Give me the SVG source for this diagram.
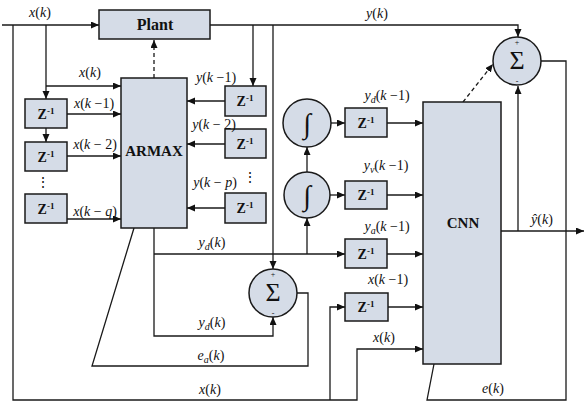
<svg xmlns="http://www.w3.org/2000/svg" width="585" height="404" viewBox="0 0 585 404" font-family="'Liberation Serif', 'DejaVu Serif', 'Noto Serif', serif">
<defs>
<marker id="ah" markerUnits="userSpaceOnUse" markerWidth="9" markerHeight="8" refX="8" refY="3.5" orient="auto">
<path d="M0,0 L8,3.5 L0,7 z" fill="#111"/>
</marker>
<style>
.blk{fill:#d5dce7;stroke:#1a1a1a;stroke-width:1.5}
.ln{fill:none;stroke:#1a1a1a;stroke-width:1.3}
.ar{fill:none;stroke:#1a1a1a;stroke-width:1.3;marker-end:url(#ah)}
.ds{stroke-dasharray:4,3}
text{font-family:'Liberation Serif','DejaVu Serif','Noto Serif',serif;fill:#111}
.lb{font-size:14px;text-anchor:middle}
.i{font-style:italic}
.sb{font-size:10px;font-style:italic}
.bd{font-weight:bold;font-size:15px;text-anchor:middle}
.z{font-weight:bold;font-size:14px;text-anchor:middle}
.sup{font-size:9px}
.sg{font-size:26px;text-anchor:middle}
.ig{font-size:28px;text-anchor:middle}
.pm{font-size:8px;text-anchor:middle}
</style>
</defs>
<rect width="585" height="404" fill="#fff"/>
<g id="connectors">
<path class="ar" d="M2,25 H99"/>
<path class="ar" d="M13,25 V400 H357 V349 H423"/>
<path class="ar" d="M330,400 V307 H345"/>
<path class="ar" d="M46,25 V99"/>
<path class="ar" d="M46,86 H121"/>
<path class="ar" d="M46,128 V142"/>
<path class="ar" d="M67,114 H121"/>
<path class="ar" d="M67,156 H121"/>
<path class="ar" d="M67,219 H121"/>
<path class="ar ds" d="M154,78 V40"/>
<path class="ar" d="M210,25 H518 V37"/>
<path class="ar" d="M253,25 V86"/>
<path class="ar" d="M273,25 V269"/>
<path class="ar" d="M225,101 H187"/>
<path class="ar" d="M225,144 H187"/>
<path class="ar" d="M225,208 H187"/>
<path class="ln" d="M541,61 H566 V400 H427 L434,364"/>
<path class="ar" d="M501,231 H584"/>
<path class="ar" d="M518,231 V86"/>
<path class="ar ds" d="M463,102 L493,64"/>
<path class="ar" d="M154,228 V336 H273 V317"/>
<path class="ar" d="M154,254 H345"/>
<path class="ar" d="M307,254 V218"/>
<path class="ar" d="M307,172 V147"/>
<path class="ar" d="M331,123 H345"/>
<path class="ar" d="M330,195 H345"/>
<path class="ar" d="M387,123 H423"/>
<path class="ar" d="M387,195 H423"/>
<path class="ar" d="M387,254 H423"/>
<path class="ar" d="M388,307 H423"/>
<path class="ln" d="M297,293 H308 V366 H92 L134,228"/>
</g>
<g id="plant"><rect class="blk" x="99" y="10" width="111" height="29"/><text class="bd" x="155" y="30" style="font-size:16px">Plant</text></g>
<g id="armax"><rect class="blk" x="121" y="78" width="66" height="150"/><text class="bd" x="154" y="156">ARMAX</text></g>
<g id="cnn"><rect class="blk" x="423" y="102" width="78" height="262"/><text class="bd" x="463" y="228">CNN</text></g>
<g id="zl1"><rect class="blk" x="25" y="99" width="42" height="29"/><text class="z" x="46" y="119">Z<tspan class="sup" dy="-5">-1</tspan></text></g>
<g id="zl2"><rect class="blk" x="25" y="142" width="42" height="29"/><text class="z" x="46" y="162">Z<tspan class="sup" dy="-5">-1</tspan></text></g>
<g id="zl3"><rect class="blk" x="25" y="194" width="42" height="29"/><text class="z" x="46" y="214">Z<tspan class="sup" dy="-5">-1</tspan></text></g>
<g id="zr1"><rect class="blk" x="225" y="86" width="41" height="30"/><text class="z" x="245" y="106">Z<tspan class="sup" dy="-5">-1</tspan></text></g>
<g id="zr2"><rect class="blk" x="225" y="129" width="41" height="29"/><text class="z" x="245" y="149">Z<tspan class="sup" dy="-5">-1</tspan></text></g>
<g id="zr3"><rect class="blk" x="225" y="193" width="41" height="30"/><text class="z" x="245" y="213">Z<tspan class="sup" dy="-5">-1</tspan></text></g>
<g id="zm1"><rect class="blk" x="345" y="108" width="42" height="29"/><text class="z" x="366" y="128">Z<tspan class="sup" dy="-5">-1</tspan></text></g>
<g id="zm2"><rect class="blk" x="345" y="181" width="42" height="28"/><text class="z" x="366" y="200">Z<tspan class="sup" dy="-5">-1</tspan></text></g>
<g id="zm3"><rect class="blk" x="345" y="239" width="42" height="29"/><text class="z" x="366" y="259">Z<tspan class="sup" dy="-5">-1</tspan></text></g>
<g id="zm4"><rect class="blk" x="345" y="293" width="43" height="28"/><text class="z" x="366" y="312">Z<tspan class="sup" dy="-5">-1</tspan></text></g>
<g id="int1"><circle class="blk" cx="307" cy="123" r="24"/><text class="ig" x="307" y="133">∫</text></g>
<g id="int2"><circle class="blk" cx="307" cy="195" r="23"/><text class="ig" x="307" y="205">∫</text></g>
<g id="sum1"><circle class="blk" cx="273" cy="293" r="24"/><text class="sg" x="273" y="301">Σ</text><text class="pm" x="273" y="277">+</text><text class="pm" x="273" y="316">-</text></g>
<g id="sum2"><circle class="blk" cx="517" cy="61" r="24"/><text class="sg" x="517" y="69">Σ</text><text class="pm" x="517" y="45">+</text><text class="pm" x="517" y="84">-</text></g>
<g id="labels">
<text class="lb" x="40" y="17"><tspan class="i">x</tspan>(<tspan class="i">k</tspan>)</text>
<text class="lb" x="90" y="77"><tspan class="i">x</tspan>(<tspan class="i">k</tspan>)</text>
<text class="lb" x="94" y="108"><tspan class="i">x</tspan>(<tspan class="i">k</tspan> −1)</text>
<text class="lb" x="95" y="149"><tspan class="i">x</tspan>(<tspan class="i">k</tspan> − 2)</text>
<text class="lb" x="95" y="216"><tspan class="i">x</tspan>(<tspan class="i">k</tspan> − <tspan class="i">q</tspan>)</text>
<text class="lb" x="43" y="187">⋮</text>
<text class="lb" x="216" y="82"><tspan class="i">y</tspan>(<tspan class="i">k</tspan> −1)</text>
<text class="lb" x="214" y="129"><tspan class="i">y</tspan>(<tspan class="i">k</tspan> − 2)</text>
<text class="lb" x="215" y="187"><tspan class="i">y</tspan>(<tspan class="i">k</tspan> − <tspan class="i">p</tspan>)</text>
<text class="lb" x="250" y="182">⋮</text>
<text class="lb" x="377" y="18"><tspan class="i">y</tspan>(<tspan class="i">k</tspan>)</text>
<text class="lb" x="387" y="100"><tspan class="i">y</tspan><tspan class="sb" dy="3">d</tspan><tspan dy="-3">(</tspan><tspan class="i">k</tspan> −1)</text>
<text class="lb" x="386" y="170"><tspan class="i">y</tspan><tspan class="sb" dy="3">v</tspan><tspan dy="-3">(</tspan><tspan class="i">k</tspan> −1)</text>
<text class="lb" x="387" y="231"><tspan class="i">y</tspan><tspan class="sb" dy="3">a</tspan><tspan dy="-3">(</tspan><tspan class="i">k</tspan> −1)</text>
<text class="lb" x="388" y="284"><tspan class="i">x</tspan>(<tspan class="i">k</tspan> −1)</text>
<text class="lb" x="384" y="342"><tspan class="i">x</tspan>(<tspan class="i">k</tspan>)</text>
<text class="lb" x="542" y="224"><tspan class="i">ŷ</tspan>(<tspan class="i">k</tspan>)</text>
<text class="lb" x="493" y="393"><tspan class="i">e</tspan>(<tspan class="i">k</tspan>)</text>
<text class="lb" x="212" y="247"><tspan class="i">y</tspan><tspan class="sb" dy="3">d</tspan><tspan dy="-3">(</tspan><tspan class="i">k</tspan>)</text>
<text class="lb" x="212" y="327"><tspan class="i">y</tspan><tspan class="sb" dy="3">d</tspan><tspan dy="-3">(</tspan><tspan class="i">k</tspan>)</text>
<text class="lb" x="211" y="360"><tspan class="i">e</tspan><tspan class="sb" dy="3">a</tspan><tspan dy="-3">(</tspan><tspan class="i">k</tspan>)</text>
<text class="lb" x="210" y="394"><tspan class="i">x</tspan>(<tspan class="i">k</tspan>)</text>
</g>
</svg>
